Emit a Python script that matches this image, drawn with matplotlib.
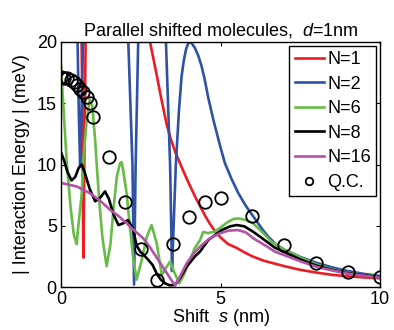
import numpy as np
import matplotlib
matplotlib.use("Agg")
import matplotlib.pyplot as plt

plt.rcParams['font.family'] = ['Liberation Sans', 'DejaVu Sans']
plt.rcParams['mathtext.fontset'] = 'custom'
plt.rcParams['mathtext.rm'] = 'Liberation Sans'
plt.rcParams['mathtext.it'] = 'Liberation Sans:italic'

# N=1 (values above 20 are clipped by the axis)
s_n1 = [0.55, 0.62, 0.66, 0.70, 0.74, 0.78, 1.0, 1.5, 2.0, 2.5, 2.79, 2.9, 3.0, 3.15,
        3.31, 3.45, 3.6, 3.83, 4.0, 4.2, 4.36, 4.51, 4.67, 4.83, 5.0, 5.24, 5.5,
        5.77, 6.0, 6.35, 6.71, 7.0, 7.5, 8.0, 8.5, 9.0, 9.5, 10.0]
e_n1 = [40, 25, 17, 2.4, 12, 22, 50, 55, 38, 24, 20, 18.6, 17.3, 15.3,
        13.3, 12.0, 10.9, 9.5, 8.5, 7.4, 6.6, 5.85, 5.15, 4.55, 4.05, 3.5, 3.2,
        2.8, 2.5, 2.15, 1.9, 1.7, 1.4, 1.18, 0.99, 0.87, 0.78, 0.71]

# N=2
s_n2 = [0.0, 0.45, 0.52, 0.56, 0.60, 0.64, 0.69, 0.75, 2.0, 2.11, 2.24, 2.29, 2.34,
        2.42, 2.5, 3.2, 3.29, 3.42, 3.48, 3.53, 3.6, 3.7, 3.78, 3.85, 3.92, 3.98,
        4.04, 4.1, 4.2, 4.3, 4.4, 4.5, 4.62, 4.8, 5.0, 5.14, 5.35, 5.56, 5.8, 6.03,
        6.3, 6.5, 6.75, 7.0, 7.5, 8.0, 8.5, 9.0, 9.5, 10.0]
e_n2 = [60, 30, 20, 14, 9.9, 14, 20, 30, 30, 20, 10, 0.2, 10,
        20, 30, 30, 20, 10, 1.3, 5, 10, 14.5, 17.2, 18.5, 19.4, 19.85,
        20.0, 19.9, 19.5, 18.9, 18.1, 17.0, 15.4, 13.4, 11.4, 10.1, 8.8, 7.65, 6.6, 5.75,
        4.75, 4.1, 3.45, 3.05, 2.45, 1.98, 1.6, 1.3, 1.07, 0.9]

# N=6
s_n6 = [0.0, 0.08, 0.18, 0.3, 0.4, 0.49, 0.54, 0.65, 0.7, 0.8, 0.9, 0.98, 1.07, 1.12,
        1.2, 1.3, 1.43, 1.55, 1.65, 1.75, 1.85, 1.9, 1.95, 2.06, 2.16, 2.27, 2.37,
        2.53, 2.69, 2.84, 3.0, 3.16, 3.3, 3.42, 3.55, 3.71, 3.85, 4.04, 4.2, 4.36,
        4.46, 4.6, 4.8, 5.0, 5.2, 5.4, 5.55, 5.75, 6.0, 6.3, 6.6, 7.0, 7.5, 8.0,
        8.5, 9.0, 10.0]
e_n6 = [18.1, 14.5, 10.2, 6.5, 4.3, 3.5, 4.9, 7.6, 10.4, 13.5, 15.3, 14.8, 12.0, 10.0,
        7.0, 4.0, 1.7, 3.5, 6.5, 9.0, 10.1, 10.2, 9.5, 7.6, 4.9, 2.2, 0.6,
        2.2, 4.1, 5.06, 3.57, 0.98, 1.6, 2.07, 1.2, 0.3, 1.0, 2.2, 3.2, 3.84,
        4.5, 4.4, 4.5, 4.85, 5.25, 5.55, 5.6, 5.5, 5.25, 4.5, 3.7, 3.05, 2.4, 1.85,
        1.45, 1.15, 0.82]

# N=8
s_n8 = [0.0, 0.1, 0.2, 0.33, 0.45, 0.55, 0.65, 0.75, 0.9, 1.07, 1.2, 1.38, 1.5, 1.65,
        1.8, 1.95, 2.1, 2.25, 2.37, 2.48, 2.6, 2.74, 2.87, 3.0, 3.13, 3.26, 3.4, 3.57,
        3.75, 3.94, 4.2, 4.36, 4.62, 5.04, 5.3, 5.51, 5.75, 6.03, 6.4, 6.71, 7.0, 7.5,
        8.0, 8.5, 9.0, 10.0]
e_n8 = [11.0, 10.3, 9.4, 8.7, 9.0, 9.7, 10.0, 9.3, 8.0, 7.0, 7.2, 7.8, 7.2, 5.9,
        5.06, 5.2, 5.47, 4.8, 3.4, 2.9, 2.6, 2.2, 1.8, 1.1, 0.6, 0.3, 0.15, 0.15,
        0.8, 1.66, 2.5, 2.9, 3.84, 4.65, 4.95, 5.06, 4.95, 4.5, 3.8, 3.2, 2.85, 2.25,
        1.75, 1.4, 1.12, 0.8]

# N=16
s_n16 = [0.0, 0.5, 0.91, 1.2, 1.54, 1.8, 2.06, 2.3, 2.58, 2.8, 3.05, 3.3, 3.45, 3.57,
         3.7, 3.94, 4.15, 4.36, 4.65, 4.98, 5.25, 5.55, 5.8, 6.03, 6.4, 6.71, 7.0,
         7.5, 8.0, 8.5, 9.06, 10.0]
e_n16 = [8.5, 8.2, 7.65, 7.1, 6.3, 5.8, 5.2, 4.6, 3.97, 3.2, 2.2, 1.2, 0.6, 0.15,
         0.7, 1.93, 2.7, 3.3, 3.95, 4.38, 4.6, 4.65, 4.45, 3.97, 3.4, 2.88, 2.6,
         2.1, 1.66, 1.35, 1.06, 0.76]

# quantum chemistry reference points
qc_s = [0.0, 0.1, 0.2, 0.3, 0.4, 0.5, 0.6, 0.7, 0.8, 0.9, 1.0, 1.5, 2.0, 2.5, 3.0,
        3.5, 4.0, 4.5, 5.0, 6.0, 7.0, 8.0, 9.0, 10.0]
qc_e = [17.15, 17.1, 17.04, 16.9, 16.7, 16.5, 16.2, 15.9, 15.5, 15.0, 13.9, 10.6, 6.9,
        3.1, 0.57, 3.5, 5.7, 6.9, 7.24, 5.8, 3.43, 1.93, 1.2, 0.84]

series = [
    (s_n1, e_n1, "#ED1C24", "N=1"),
    (s_n2, e_n2, "#2F52A6", "N=2"),
    (s_n6, e_n6, "#66BC46", "N=6"),
    (s_n8, e_n8, "#000000", "N=8"),
    (s_n16, e_n16, "#B452A8", "N=16"),
]

fs = 13

fig = plt.figure(figsize=(3.94, 3.30), dpi=100)
ax = fig.add_axes([61 / 394, 1 - 287 / 330, 319 / 394, 245 / 330])

for xs, ys, col, lab in series:
    ax.plot(xs, ys, color=col, lw=1.9, label=lab)
ax.plot(qc_s, qc_e, "o", mfc="none", mec="black", mew=1.3, ms=9, label="Q.C.")

ax.set_xlim(0, 10)
ax.set_ylim(0, 20)
ax.set_xticks([0, 5, 10])
ax.set_yticks([0, 5, 10, 15, 20])
ax.tick_params(direction="in", length=3, width=0.8, top=True, right=True,
               labelsize=fs)
ax.tick_params(axis="x", pad=3)
ax.tick_params(axis="y", pad=3)
for sp in ax.spines.values():
    sp.set_linewidth(1.0)

ax.set_title("Parallel shifted molecules,  $d$=1nm", fontsize=fs, pad=5)
ax.set_xlabel("Shift  $s$ (nm)", fontsize=fs, labelpad=-1)
ax.set_ylabel("| Interaction Energy | (meV)", fontsize=fs, labelpad=5)

leg = ax.legend(loc="upper right", fontsize=fs, fancybox=False, framealpha=1,
                edgecolor="black", handlelength=1.6, handletextpad=0.2,
                labelspacing=0.42, borderpad=0.3, borderaxespad=0.2, markerscale=0.6)
leg.get_frame().set_linewidth(1.0)

fig.savefig("out.png", dpi=100)
